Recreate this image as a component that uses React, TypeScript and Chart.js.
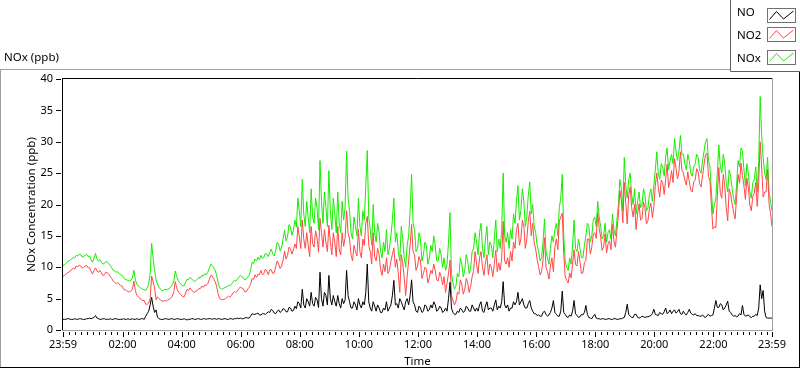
import React, { useEffect, useRef } from 'react';
import { Chart, registerables } from 'chart.js';

Chart.register(...registerables);

// samples every STEP_MIN minutes after the start (23:59 of the previous day)
const STEP_MIN = 3;
const X_MAJOR_TICKS = [0, 121, 241, 361, 481, 601, 721, 841, 961, 1081, 1201, 1321, 1440];
const Y_TICKS = [0, 5, 10, 15, 20, 25, 30, 35, 40];
const SERIES_NAMES = ['NO', 'NO2', 'NOx'];
const CHART_TITLE = 'NOx (ppb)';
const X_TITLE = 'Time';
const Y_TITLE = 'NOx Concentration (ppb)';

// one row = one hour (20 samples)
const NO = [
  1.7, 1.7, 1.7, 1.8, 1.8, 1.7, 1.7, 1.7, 1.8, 1.7, 1.7, 1.8, 1.8, 1.7, 1.7, 1.7, 1.8, 1.8, 1.9, 1.8,
  1.9, 2.0, 2.3, 1.9, 1.8, 1.7, 1.7, 1.8, 1.8, 1.7, 1.7, 1.7, 1.8, 1.7, 1.7, 1.8, 1.8, 1.7, 1.7, 1.7,
  1.7, 1.8, 1.7, 1.7, 1.8, 1.7, 1.7, 1.8, 1.7, 1.7, 1.8, 1.7, 1.7, 1.8, 1.8, 1.7, 2.2, 2.6, 3.0, 4.0,
  5.2, 3.8, 2.8, 3.2, 2.0, 1.8, 1.7, 1.7, 1.7, 1.8, 1.8, 1.7, 1.7, 1.8, 1.8, 1.7, 1.7, 1.8, 1.8, 1.7,
  1.7, 1.7, 1.8, 1.7, 1.6, 1.7, 1.7, 1.8, 1.8, 1.7, 1.7, 1.8, 1.8, 1.7, 1.7, 1.8, 1.8, 1.7, 1.8, 1.8,
  1.8, 1.7, 1.8, 1.8, 1.7, 1.8, 1.8, 1.7, 1.7, 1.8, 1.8, 1.7, 1.7, 1.8, 1.8, 1.7, 1.8, 1.8, 1.9, 1.8,
  1.9, 1.8, 1.8, 1.9, 2.0, 1.9, 1.9, 2.2, 2.6, 2.5, 2.5, 2.6, 2.7, 2.4, 2.4, 2.6, 2.6, 2.5, 2.7, 2.9,
  2.8, 3.3, 3.1, 2.7, 2.6, 3.0, 3.2, 2.8, 3.0, 3.4, 3.3, 2.9, 2.9, 3.6, 3.5, 3.0, 3.1, 3.8, 3.4, 4.5,
  4.2, 3.5, 6.5, 4.0, 3.5, 5.0, 4.5, 3.8, 6.0, 4.2, 3.8, 5.2, 4.8, 3.6, 9.2, 5.0, 3.8, 6.0, 5.5, 4.0,
  8.7, 5.0, 4.0, 5.5, 4.5, 3.8, 5.5, 4.2, 3.5, 5.0, 4.2, 4.8, 9.5, 5.5, 4.5, 3.5, 3.5, 4.5, 4.0, 3.2,
  5.0, 4.0, 3.5, 4.5, 4.0, 6.0, 10.5, 4.5, 3.5, 3.0, 4.5, 3.8, 3.0, 4.0, 3.5, 2.8, 2.8, 3.5, 3.2, 4.5,
  3.0, 3.5, 4.0, 5.5, 7.9, 4.0, 4.2, 3.5, 5.0, 4.5, 3.8, 3.2, 4.5, 5.0, 4.0, 5.5, 8.0, 4.5, 4.0, 3.0,
  2.8, 3.8, 3.5, 2.8, 3.0, 4.0, 3.8, 3.0, 3.2, 4.0, 3.5, 4.5, 4.0, 3.0, 3.2, 3.8, 3.5, 2.8, 3.0, 3.5,
  3.0, 5.0, 7.6, 3.5, 2.8, 2.5, 2.5, 3.0, 2.8, 3.5, 3.2, 2.8, 3.0, 3.8, 3.5, 3.0, 3.0, 4.0, 3.5, 3.0,
  3.5, 3.0, 4.0, 4.5, 3.0, 2.8, 3.8, 4.5, 3.2, 3.5, 3.5, 3.0, 4.0, 4.8, 3.2, 3.8, 3.5, 4.5, 7.7, 4.0,
  3.5, 4.0, 3.0, 3.5, 3.5, 4.5, 4.0, 4.5, 6.0, 4.0, 4.5, 5.0, 4.0, 3.5, 3.5, 4.2, 4.7, 3.5, 3.0, 2.6,
  2.6, 2.3, 2.4, 2.2, 2.2, 2.8, 3.0, 2.5, 2.2, 2.4, 2.8, 3.5, 4.7, 2.8, 2.5, 2.2, 2.2, 3.0, 6.2, 2.8,
  2.5, 2.1, 2.0, 2.4, 2.2, 3.0, 4.7, 2.6, 2.3, 2.0, 2.1, 2.5, 2.4, 2.8, 3.9, 2.5, 2.0, 1.9, 1.8, 2.2,
  2.5, 1.9, 1.8, 1.8, 1.7, 1.8, 1.8, 1.7, 1.7, 1.8, 1.8, 1.7, 1.7, 1.8, 1.8, 1.7, 1.7, 1.8, 1.8, 1.9,
  2.0, 2.8, 4.1, 2.5, 2.2, 2.0, 2.0, 2.5, 2.5, 2.0, 1.9, 2.0, 2.2, 2.1, 2.0, 2.1, 2.1, 2.2, 2.3, 2.6,
  3.3, 2.5, 2.4, 2.3, 2.8, 2.6, 2.5, 2.9, 3.5, 2.6, 2.8, 3.2, 2.6, 3.0, 3.2, 2.7, 2.9, 3.3, 2.6, 2.5,
  3.0, 2.6, 2.4, 2.8, 3.3, 2.7, 2.5, 2.4, 2.6, 2.3, 2.3, 2.2, 2.2, 2.4, 2.1, 2.0, 2.3, 2.5, 2.2, 2.3,
  2.4, 3.5, 4.7, 3.6, 3.6, 4.2, 4.0, 3.2, 3.5, 4.0, 4.6, 3.0, 2.8, 2.4, 2.2, 2.3, 2.1, 2.2, 2.6, 2.4,
  3.9, 2.5, 2.2, 2.3, 2.4, 2.1, 2.0, 2.2, 2.2, 2.5, 2.3, 3.5, 7.2, 5.0, 6.3, 3.0, 2.0, 1.9, 1.9, 1.9,
  1.9,
];

const NO2 = [
  8.6, 8.7, 8.9, 9.1, 9.2, 9.5, 9.6, 9.9, 9.7, 10.2, 10.1, 10.3, 10.2, 9.9, 10.0, 10.2, 10.3, 9.9, 9.9, 9.4,
  8.9, 9.5, 9.9, 9.4, 9.2, 9.5, 9.1, 8.7, 8.8, 9.2, 9.1, 8.9, 8.5, 8.2, 7.8, 7.6, 7.4, 7.6, 7.3, 7.1,
  7.0, 6.5, 6.4, 6.3, 6.1, 6.1, 6.2, 6.5, 7.8, 6.3, 5.5, 5.3, 5.1, 4.8, 4.7, 4.7, 4.1, 4.1, 4.3, 5.0,
  8.6, 7.7, 6.7, 4.8, 5.3, 5.0, 4.8, 4.6, 4.6, 4.7, 4.6, 4.8, 4.9, 5.1, 5.4, 6.1, 7.7, 6.7, 6.1, 5.8,
  5.6, 5.3, 5.3, 5.9, 6.5, 6.3, 6.7, 6.4, 6.1, 6.0, 6.2, 6.3, 6.6, 6.6, 7.0, 6.8, 7.2, 7.1, 7.4, 8.0,
  8.7, 8.6, 8.2, 7.7, 7.0, 5.8, 5.0, 4.9, 4.8, 4.9, 5.0, 5.2, 5.4, 5.2, 5.5, 5.9, 6.1, 6.0, 6.2, 6.6,
  6.8, 6.7, 6.6, 6.1, 6.1, 6.5, 6.8, 7.3, 8.2, 8.1, 8.8, 8.4, 8.9, 8.8, 9.5, 8.8, 9.0, 9.7, 9.4, 8.8,
  9.6, 9.6, 9.0, 9.1, 10.1, 11.0, 10.5, 9.8, 10.2, 11.1, 12.6, 11.3, 11.9, 13.2, 12.9, 12.1, 12.8, 13.7, 13.0, 16.5,
  14.8, 13.0, 17.5, 14.5, 13.0, 15.5, 13.5, 11.7, 16.5, 13.8, 13.2, 15.8, 14.7, 12.4, 17.8, 15.5, 13.2, 16.0, 14.0, 12.5,
  16.7, 14.0, 12.0, 15.5, 14.0, 11.7, 16.5, 12.8, 12.0, 15.5, 13.3, 14.7, 19.0, 15.5, 14.5, 12.0, 11.0, 13.5, 12.5, 11.8,
  16.0, 12.5, 11.5, 14.5, 13.5, 17.0, 18.1, 13.5, 12.5, 10.5, 15.5, 11.7, 11.0, 13.0, 12.0, 9.7, 8.7, 10.5, 9.3, 11.5,
  9.0, 9.5, 11.0, 12.0, 13.1, 10.0, 11.3, 9.0, 6.0, 12.0, 10.7, 8.3, 5.5, 8.5, 11.0, 13.5, 16.8, 12.5, 12.0, 9.5,
  10.2, 11.7, 11.0, 8.2, 9.0, 10.0, 9.7, 7.5, 8.3, 9.5, 9.0, 10.5, 9.5, 8.0, 7.8, 9.2, 8.5, 7.2, 8.5, 6.0,
  7.5, 9.0, 11.1, 5.5, 4.7, 4.0, 4.5, 6.0, 5.7, 8.0, 7.3, 5.7, 6.5, 8.2, 7.5, 6.0, 7.0, 8.5, 9.5, 12.5,
  10.5, 9.0, 11.5, 12.5, 10.0, 8.7, 10.7, 12.0, 8.8, 10.5, 10.0, 8.5, 10.5, 12.7, 9.3, 10.7, 9.5, 11.5, 17.3, 11.0,
  10.5, 11.5, 10.0, 12.5, 11.0, 14.0, 13.0, 16.0, 17.0, 13.5, 14.5, 17.5, 16.5, 13.0, 14.5, 17.3, 18.9, 15.0, 17.0, 13.9,
  12.9, 11.2, 10.1, 8.8, 9.3, 11.2, 14.7, 10.0, 9.3, 8.1, 10.2, 11.5, 9.3, 13.2, 14.5, 12.8, 17.3, 18.0, 18.6, 12.2,
  8.5, 7.9, 7.5, 9.1, 8.3, 10.5, 12.8, 10.4, 10.2, 12.5, 10.9, 9.0, 9.1, 10.7, 11.1, 14.5, 14.5, 12.1, 13.2, 15.3,
  15.5, 14.6, 18.7, 16.2, 14.8, 12.7, 13.2, 15.3, 12.3, 13.7, 14.2, 12.8, 16.8, 14.2, 13.2, 15.8, 18.3, 22.2, 20.7, 17.1,
  23.5, 20.2, 16.9, 21.5, 22.8, 19.5, 18.0, 20.0, 16.0, 18.5, 20.1, 17.5, 17.8, 20.4, 19.5, 16.9, 17.4, 19.3, 20.2, 17.9,
  19.7, 23.0, 25.0, 22.7, 21.2, 23.9, 23.5, 21.6, 24.0, 26.4, 22.7, 23.8, 25.4, 23.5, 27.3, 25.8, 24.1, 25.2, 28.4, 25.5,
  25.0, 23.9, 23.1, 25.2, 23.7, 22.3, 22.0, 23.6, 23.9, 25.7, 25.2, 23.3, 22.8, 24.6, 26.4, 28.0, 28.2, 24.5, 23.8, 19.7,
  16.1, 16.5, 16.3, 21.4, 25.9, 21.8, 21.0, 24.8, 23.0, 19.5, 17.4, 22.5, 21.7, 20.1, 18.8, 17.7, 20.9, 24.8, 23.4, 26.6,
  24.6, 23.0, 20.8, 24.2, 22.6, 19.9, 19.0, 21.3, 21.8, 23.5, 19.7, 23.5, 30.0, 26.0, 21.2, 22.0, 22.0, 25.6, 20.1, 18.6,
  16.5,
];

const NOX = [
  10.3, 10.4, 10.6, 10.9, 11.0, 11.2, 11.3, 11.6, 11.5, 11.9, 11.8, 12.1, 12.0, 11.6, 11.7, 11.9, 12.1, 11.7, 11.8, 11.2,
  10.8, 11.5, 12.2, 11.3, 11.0, 11.2, 10.8, 10.5, 10.6, 10.9, 10.8, 10.6, 10.3, 9.9, 9.5, 9.4, 9.2, 9.3, 9.0, 8.8,
  8.7, 8.3, 8.1, 8.0, 7.9, 7.8, 7.9, 8.3, 9.5, 8.0, 7.3, 7.0, 6.8, 6.6, 6.5, 6.4, 6.3, 6.7, 7.3, 9.0,
  13.8, 11.5, 9.5, 8.0, 7.3, 6.8, 6.5, 6.3, 6.3, 6.5, 6.4, 6.5, 6.6, 6.9, 7.2, 7.8, 9.4, 8.5, 7.9, 7.5,
  7.3, 7.0, 7.1, 7.6, 8.1, 8.0, 8.4, 8.2, 7.9, 7.7, 7.9, 8.1, 8.4, 8.3, 8.7, 8.6, 9.0, 8.8, 9.2, 9.8,
  10.5, 10.3, 10.0, 9.5, 8.7, 7.6, 6.8, 6.6, 6.5, 6.7, 6.8, 6.9, 7.1, 7.0, 7.3, 7.6, 7.9, 7.8, 8.1, 8.4,
  8.7, 8.5, 8.4, 8.0, 8.1, 8.4, 8.7, 9.5, 10.8, 10.6, 11.3, 11.0, 11.6, 11.2, 11.9, 11.4, 11.6, 12.2, 12.1, 11.7,
  12.4, 12.9, 12.1, 11.8, 12.7, 14.0, 13.7, 12.6, 13.2, 14.5, 15.9, 14.2, 14.8, 16.8, 16.4, 15.1, 15.9, 17.5, 16.4, 21.0,
  19.0, 16.5, 24.0, 18.5, 16.5, 20.5, 18.0, 15.5, 22.5, 18.0, 17.0, 21.0, 19.5, 16.0, 27.0, 20.5, 17.0, 22.0, 19.5, 16.5,
  25.4, 19.0, 16.0, 21.0, 18.5, 15.5, 22.0, 17.0, 15.5, 20.5, 17.5, 19.5, 28.5, 21.0, 19.0, 15.5, 14.5, 18.0, 16.5, 15.0,
  21.0, 16.5, 15.0, 19.0, 17.5, 23.0, 28.6, 18.0, 16.0, 13.5, 20.0, 15.5, 14.0, 17.0, 15.5, 12.5, 11.5, 14.0, 12.5, 16.0,
  12.0, 13.0, 15.0, 17.5, 21.0, 14.0, 15.5, 12.5, 11.0, 16.5, 14.5, 11.5, 10.0, 13.5, 15.0, 19.0, 24.8, 17.0, 16.0, 12.5,
  13.0, 15.5, 14.5, 11.0, 12.0, 14.0, 13.5, 10.5, 11.5, 13.5, 12.5, 15.0, 13.5, 11.0, 11.0, 13.0, 12.0, 10.0, 11.5, 9.5,
  10.5, 14.0, 18.7, 9.0, 7.5, 6.5, 7.0, 9.0, 8.5, 11.5, 10.5, 8.5, 9.5, 12.0, 11.0, 9.0, 10.0, 12.5, 13.0, 15.5,
  14.0, 12.0, 15.5, 17.0, 13.0, 11.5, 14.5, 16.5, 12.0, 14.0, 13.5, 11.5, 14.5, 17.5, 12.5, 14.5, 13.0, 16.0, 25.0, 15.0,
  14.0, 15.5, 13.0, 16.0, 14.5, 18.5, 17.0, 20.5, 23.0, 17.5, 19.0, 22.5, 20.5, 16.5, 18.0, 21.5, 23.6, 18.5, 20.0, 16.5,
  15.5, 13.5, 12.5, 11.0, 11.5, 14.0, 17.7, 12.5, 11.5, 10.5, 13.0, 15.0, 14.0, 16.0, 17.0, 15.0, 19.5, 21.0, 24.8, 15.0,
  11.0, 10.0, 9.5, 11.5, 10.5, 13.5, 17.5, 13.0, 12.5, 14.5, 13.0, 11.5, 11.5, 13.5, 15.0, 17.0, 16.5, 14.0, 15.0, 17.5,
  18.0, 16.5, 20.5, 18.0, 16.5, 14.5, 15.0, 17.0, 14.0, 15.5, 16.0, 14.5, 18.5, 16.0, 15.0, 17.5, 20.0, 24.0, 22.5, 19.0,
  27.5, 23.0, 21.0, 24.0, 25.0, 21.5, 20.0, 22.5, 18.5, 20.5, 22.0, 19.5, 20.0, 22.5, 21.5, 19.0, 19.5, 21.5, 22.5, 20.5,
  23.0, 25.5, 28.4, 25.0, 24.0, 26.5, 26.0, 24.5, 27.5, 29.0, 25.5, 27.0, 28.0, 26.5, 30.5, 28.5, 27.0, 28.5, 31.0, 28.0,
  28.0, 26.5, 25.5, 28.0, 27.0, 25.0, 24.5, 26.0, 26.5, 28.0, 27.5, 25.5, 25.0, 27.0, 28.5, 30.0, 30.5, 27.0, 26.0, 22.0,
  18.5, 20.0, 21.0, 25.0, 29.5, 26.0, 25.0, 28.0, 26.5, 23.5, 22.0, 25.5, 24.5, 22.5, 21.0, 20.0, 23.0, 27.0, 26.0, 29.0,
  28.5, 25.5, 23.0, 26.5, 25.0, 22.0, 21.0, 23.5, 24.0, 26.0, 22.0, 27.0, 37.2, 31.0, 27.5, 25.0, 24.0, 27.5, 22.0, 20.5,
  19.0,
];

const COLORS = ['#000000', 'rgb(255, 72, 72)', 'rgb(24, 236, 0)'];
const FONT = '"Noto Sans", "Open Sans", sans-serif';

function clockLabel(v: number): string {
  const m = (v + 23 * 60 + 59) % 1440;
  const h = Math.floor(m / 60);
  const mm = m % 60;
  return String(h).padStart(2, '0') + ':' + String(mm).padStart(2, '0');
}

function toPoints(arr: number[]) {
  return arr.map((y, i) => ({ x: i * STEP_MIN, y }));
}

const decorPlugin = {
  id: 'decor',
  beforeDraw(chart: any) {
    const ctx = chart.ctx as CanvasRenderingContext2D;
    ctx.save();
    ctx.fillStyle = '#ffffff';
    ctx.fillRect(0, 0, chart.width, chart.height);
    ctx.lineWidth = 1;
    // outer frame
    ctx.strokeStyle = '#a0a0a0';
    ctx.beginPath();
    ctx.moveTo(0, 69.5);
    ctx.lineTo(730, 69.5);
    ctx.moveTo(0.5, 69);
    ctx.lineTo(0.5, 368);
    ctx.stroke();
    ctx.strokeStyle = '#000000';
    ctx.beginPath();
    ctx.moveTo(799.5, 71);
    ctx.lineTo(799.5, 368);
    ctx.moveTo(0, 367.5);
    ctx.lineTo(800, 367.5);
    ctx.stroke();
    // title
    ctx.fillStyle = '#000';
    ctx.font = '11.5px ' + FONT;
    ctx.textBaseline = 'middle';
    ctx.textAlign = 'left';
    ctx.fillText(CHART_TITLE, 4, 58);
    ctx.restore();
  },
  afterDraw(chart: any) {
    const ctx = chart.ctx as CanvasRenderingContext2D;
    const { left, top, right, bottom } = chart.chartArea;
    const xs = chart.scales.x;
    const ys = chart.scales.y;
    ctx.save();
    ctx.lineWidth = 1;
    // plot frame
    ctx.strokeStyle = '#000';
    ctx.beginPath();
    ctx.moveTo(left - 1, top - 0.5);
    ctx.lineTo(right + 1, top - 0.5);
    ctx.moveTo(left - 0.5, top - 1);
    ctx.lineTo(left - 0.5, bottom + 1);
    ctx.stroke();
    ctx.strokeStyle = '#a0a0a0';
    ctx.beginPath();
    ctx.moveTo(right + 0.5, top - 1);
    ctx.lineTo(right + 0.5, bottom + 1);
    ctx.moveTo(left - 1, bottom + 0.5);
    ctx.lineTo(right + 1, bottom + 0.5);
    ctx.stroke();
    // y ticks
    ctx.strokeStyle = '#000';
    ctx.beginPath();
    for (const v of Y_TICKS) {
      const py = Math.round(ys.getPixelForValue(v)) + 0.5;
      ctx.moveTo(left - 7, py);
      ctx.lineTo(left - 2, py);
    }
    ctx.stroke();
    // x ticks (major + minor)
    ctx.beginPath();
    for (let i = 0; i < X_MAJOR_TICKS.length; i++) {
      const v = X_MAJOR_TICKS[i];
      const px = Math.round(xs.getPixelForValue(v)) + 0.5;
      ctx.moveTo(px, bottom + 2);
      ctx.lineTo(px, bottom + 7);
      if (i < X_MAJOR_TICKS.length - 1) {
        const next = X_MAJOR_TICKS[i + 1];
        const base = i === 0 ? next : v;
        const dir = i === 0 ? -1 : 1;
        for (let k = 1; k <= 9; k++) {
          const mv = base + dir * 12 * k;
          if (mv <= v || mv >= next) continue;
          const mx = Math.round(xs.getPixelForValue(mv)) + 0.5;
          ctx.moveTo(mx, bottom + 2);
          ctx.lineTo(mx, bottom + 5);
        }
      }
    }
    ctx.stroke();
    // legend box
    ctx.strokeStyle = '#606060';
    ctx.beginPath();
    ctx.moveTo(730.5, 0);
    ctx.lineTo(730.5, 71.5);
    ctx.lineTo(800, 71.5);
    ctx.stroke();
    const rowsY = [8.5, 27.5, 50.5];
    const textY = [13, 35.5, 59];
    ctx.font = '11.5px ' + FONT;
    ctx.textBaseline = 'middle';
    ctx.textAlign = 'left';
    for (let i = 0; i < SERIES_NAMES.length; i++) {
      ctx.fillStyle = '#000';
      ctx.fillText(SERIES_NAMES[i], 737, textY[i]);
      const bx = 767.5;
      const by = rowsY[i];
      ctx.fillStyle = '#fff';
      ctx.fillRect(bx, by, 28, 14);
      ctx.strokeStyle = '#707070';
      ctx.strokeRect(bx, by, 28, 14);
      ctx.strokeStyle = COLORS[i];
      ctx.beginPath();
      ctx.moveTo(bx + 2, by + 11);
      ctx.lineTo(bx + 9, by + 3);
      ctx.lineTo(bx + 16, by + 10.5);
      ctx.lineTo(bx + 26, by + 2.5);
      ctx.stroke();
    }
    ctx.restore();
  },
};

export default function App() {
  const canvasRef = useRef<HTMLCanvasElement | null>(null);

  useEffect(() => {
    const canvas = canvasRef.current;
    if (!canvas) return;
    const seriesData = [NO, NO2, NOX];
    const chart = new Chart(canvas, {
      type: 'line',
      data: {
        datasets: SERIES_NAMES.map((name, i) => ({
          label: name,
          data: toPoints(seriesData[i]),
          borderColor: COLORS[i],
          backgroundColor: COLORS[i],
          borderWidth: 1,
          pointRadius: 0,
          tension: 0,
          fill: false,
        })),
      },
      options: {
        responsive: false,
        animation: false,
        events: [],
        layout: { padding: { left: 0, top: 79, right: 28, bottom: 0 } },
        plugins: {
          legend: { display: false },
          title: { display: false },
          tooltip: { enabled: false },
        },
        scales: {
          x: {
            type: 'linear',
            min: 0,
            max: 1440,
            grid: { display: false, drawTicks: false },
            border: { display: false },
            afterBuildTicks: (scale: any) => {
              scale.ticks = X_MAJOR_TICKS.map((v) => ({ value: v }));
            },
            afterFit: (scale: any) => {
              scale.height = 39;
            },
            ticks: {
              autoSkip: false,
              maxRotation: 0,
              padding: 8,
              color: '#000',
              font: { family: FONT, size: 11 },
              callback: (v: any) => clockLabel(Number(v)),
            },
            title: {
              display: true,
              text: X_TITLE,
              color: '#000',
              font: { family: FONT, size: 11.5 },
              padding: { top: 0, bottom: 0 },
            },
          },
          y: {
            type: 'linear',
            min: 0,
            max: 40,
            grid: { display: false, drawTicks: false },
            border: { display: false },
            afterBuildTicks: (scale: any) => {
              scale.ticks = Y_TICKS.map((v) => ({ value: v }));
            },
            afterFit: (scale: any) => {
              scale.width = 63;
            },
            ticks: {
              padding: 10,
              color: '#000',
              font: { family: FONT, size: 11 },
            },
            title: {
              display: true,
              text: Y_TITLE,
              color: '#000',
              font: { family: FONT, size: 11.5 },
              padding: { top: 25, bottom: 0 },
            },
          },
        },
      },
      plugins: [decorPlugin],
    } as any);
    return () => chart.destroy();
  }, []);

  return (
    <div style={{ position: 'absolute', left: 0, top: 0, width: 800, height: 369, background: '#fff' }}>
      <canvas ref={canvasRef} width={800} height={369} style={{ display: 'block', width: 800, height: 369 }} />
    </div>
  );
}
